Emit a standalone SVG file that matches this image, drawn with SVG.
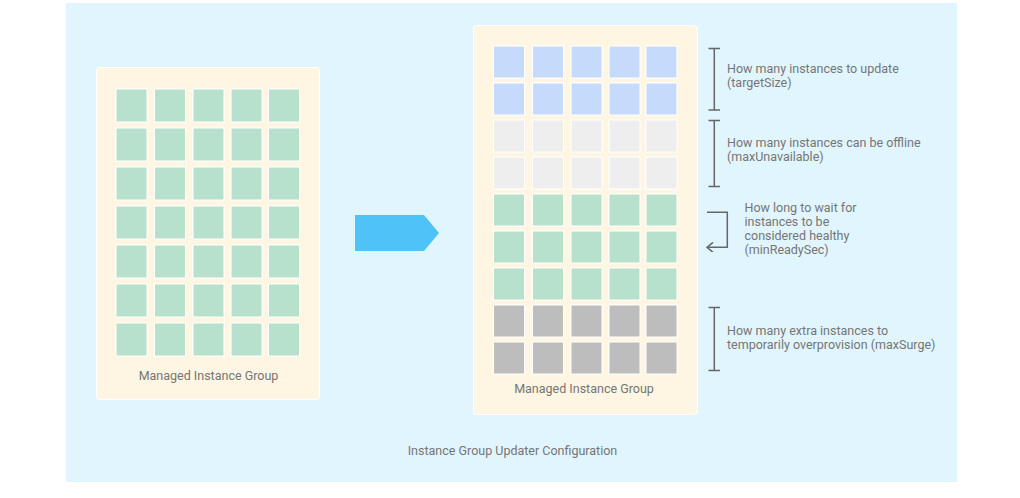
<svg xmlns="http://www.w3.org/2000/svg" width="1020" height="498" viewBox="0 0 1020 498">
<style>
  .bg{fill:#e1f5fe}
  .card{fill:#fef6e2;stroke:#ffffff;stroke-width:1}
  .sq{stroke:#ffffff;stroke-width:1}
  .g{fill:#b7e1cd}
  .b{fill:#c6dafc}
  .l{fill:#eeeeee}
  .d{fill:#bdbdbd}
  .t{font-family:Roboto,"Liberation Sans",sans-serif;font-size:12.5px;fill:#757575}
  .c{text-anchor:middle}
  .br{stroke:#666666;stroke-width:1.5;fill:none}
</style>
<defs>
  <marker id="chev" viewBox="0 0 10 10" refX="9" refY="5" markerWidth="10" markerHeight="10" markerUnits="userSpaceOnUse" orient="auto">
    <path d="M3,0 L9,5 L3,10" fill="none" stroke="#666666" stroke-width="1.5"/>
  </marker>
</defs>
<rect id="config" class="bg" x="66" y="3" width="891" height="479"/>
<text class="t c" x="512.5" y="455">Instance Group Updater Configuration</text>

<g id="left-mig">
  <rect class="card" x="96.5" y="67.5" width="223" height="332" rx="3"/>
  <g class="sq g">
    <rect x="116" y="89" width="31" height="33"/><rect x="154.5" y="89" width="31" height="33"/><rect x="193" y="89" width="31" height="33"/><rect x="231" y="89" width="31" height="33"/><rect x="268.5" y="89" width="31" height="33"/>
    <rect x="116" y="128" width="31" height="33"/><rect x="154.5" y="128" width="31" height="33"/><rect x="193" y="128" width="31" height="33"/><rect x="231" y="128" width="31" height="33"/><rect x="268.5" y="128" width="31" height="33"/>
    <rect x="116" y="167" width="31" height="33"/><rect x="154.5" y="167" width="31" height="33"/><rect x="193" y="167" width="31" height="33"/><rect x="231" y="167" width="31" height="33"/><rect x="268.5" y="167" width="31" height="33"/>
    <rect x="116" y="206" width="31" height="33"/><rect x="154.5" y="206" width="31" height="33"/><rect x="193" y="206" width="31" height="33"/><rect x="231" y="206" width="31" height="33"/><rect x="268.5" y="206" width="31" height="33"/>
    <rect x="116" y="245" width="31" height="33"/><rect x="154.5" y="245" width="31" height="33"/><rect x="193" y="245" width="31" height="33"/><rect x="231" y="245" width="31" height="33"/><rect x="268.5" y="245" width="31" height="33"/>
    <rect x="116" y="284" width="31" height="33"/><rect x="154.5" y="284" width="31" height="33"/><rect x="193" y="284" width="31" height="33"/><rect x="231" y="284" width="31" height="33"/><rect x="268.5" y="284" width="31" height="33"/>
    <rect x="116" y="323" width="31" height="33"/><rect x="154.5" y="323" width="31" height="33"/><rect x="193" y="323" width="31" height="33"/><rect x="231" y="323" width="31" height="33"/><rect x="268.5" y="323" width="31" height="33"/>
  </g>
  <text class="t c" x="208.5" y="380">Managed Instance Group</text>
</g>

<g id="right-mig">
  <rect class="card" x="473.5" y="25.5" width="224" height="389" rx="3"/>
  <g class="sq b">
    <rect x="493.5" y="46" width="31" height="32"/><rect x="532.5" y="46" width="31" height="32"/><rect x="571" y="46" width="31" height="32"/><rect x="609" y="46" width="31" height="32"/><rect x="646" y="46" width="31" height="32"/>
    <rect x="493.5" y="83" width="31" height="32"/><rect x="532.5" y="83" width="31" height="32"/><rect x="571" y="83" width="31" height="32"/><rect x="609" y="83" width="31" height="32"/><rect x="646" y="83" width="31" height="32"/>
  </g>
  <g class="sq l">
    <rect x="493.5" y="120" width="31" height="32"/><rect x="532.5" y="120" width="31" height="32"/><rect x="571" y="120" width="31" height="32"/><rect x="609" y="120" width="31" height="32"/><rect x="646" y="120" width="31" height="32"/>
    <rect x="493.5" y="157" width="31" height="32"/><rect x="532.5" y="157" width="31" height="32"/><rect x="571" y="157" width="31" height="32"/><rect x="609" y="157" width="31" height="32"/><rect x="646" y="157" width="31" height="32"/>
  </g>
  <g class="sq g">
    <rect x="493.5" y="194" width="31" height="32"/><rect x="532.5" y="194" width="31" height="32"/><rect x="571" y="194" width="31" height="32"/><rect x="609" y="194" width="31" height="32"/><rect x="646" y="194" width="31" height="32"/>
    <rect x="493.5" y="231" width="31" height="32"/><rect x="532.5" y="231" width="31" height="32"/><rect x="571" y="231" width="31" height="32"/><rect x="609" y="231" width="31" height="32"/><rect x="646" y="231" width="31" height="32"/>
    <rect x="493.5" y="268" width="31" height="32"/><rect x="532.5" y="268" width="31" height="32"/><rect x="571" y="268" width="31" height="32"/><rect x="609" y="268" width="31" height="32"/><rect x="646" y="268" width="31" height="32"/>
  </g>
  <g class="sq d">
    <rect x="493.5" y="305" width="31" height="32"/><rect x="532.5" y="305" width="31" height="32"/><rect x="571" y="305" width="31" height="32"/><rect x="609" y="305" width="31" height="32"/><rect x="646" y="305" width="31" height="32"/>
    <rect x="493.5" y="342" width="31" height="32"/><rect x="532.5" y="342" width="31" height="32"/><rect x="571" y="342" width="31" height="32"/><rect x="609" y="342" width="31" height="32"/><rect x="646" y="342" width="31" height="32"/>
  </g>
  <text class="t c" x="584" y="393">Managed Instance Group</text>
</g>

<g id="label-targetSize">
  <text class="t" x="727" y="72.5">How many instances to update</text>
  <text class="t" x="727" y="86.5">(targetSize)</text>
</g>
<g id="label-maxUnavailable">
  <text class="t" x="727" y="147">How many instances can be offline</text>
  <text class="t" x="727" y="161">(maxUnavailable)</text>
</g>
<g id="label-minReadySec">
  <text class="t" x="744.5" y="212">How long to wait for</text>
  <text class="t" x="744.5" y="226">instances to be</text>
  <text class="t" x="744.5" y="239.5">considered healthy</text>
  <text class="t" x="744.5" y="253.5">(minReadySec)</text>
</g>
<g id="label-maxSurge">
  <text class="t" x="727" y="335">How many extra instances to</text>
  <text class="t" x="727" y="348.5">temporarily overprovision (maxSurge)</text>
</g>

<g id="connectors">
  <polygon points="355,215 424,215 439,233 424,251 355,251" fill="#4fc3f7"/>
  <path class="br" d="M708.5,48.5 H720 M714.3,48.5 V110 M708.5,110 H720"/>
  <path class="br" d="M708.5,120.5 H720 M714.3,120.5 V186.5 M708.5,186.5 H720"/>
  <path class="br" d="M707,212.3 H727.3 V247.3 H707" marker-end="url(#chev)"/>
  <path class="br" d="M708.5,307.5 H720 M714.3,307.5 V370.5 M708.5,370.5 H720"/>
</g>
</svg>
